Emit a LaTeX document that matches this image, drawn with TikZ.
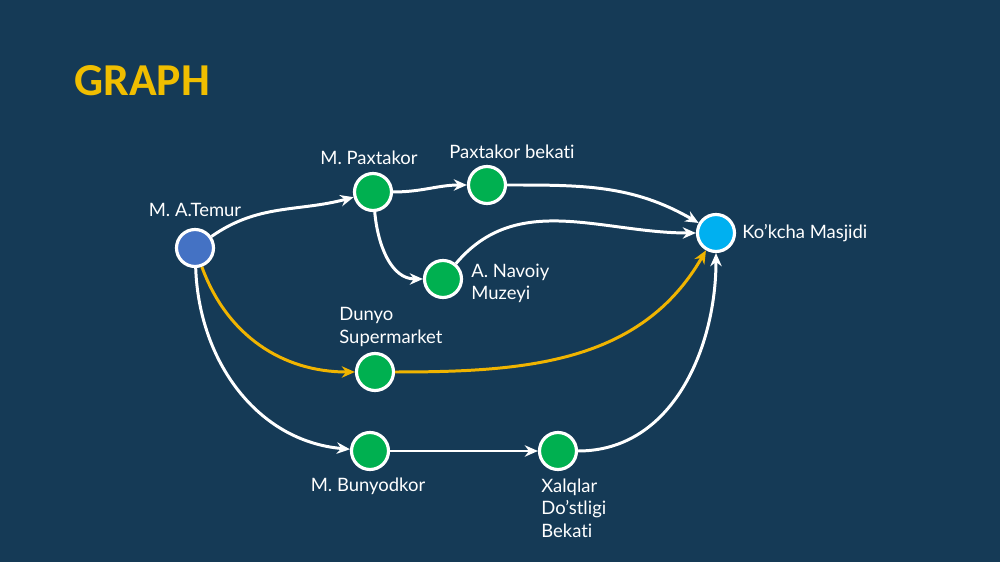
\documentclass[tikz,border=0pt]{standalone}
\usepackage{fontspec}
\setmainfont[Ligatures=CommonOff]{Lato}
\newfontfamily\titlefont{Carlito}
\usetikzlibrary{arrows.meta}
\definecolor{slidebg}{RGB}{21,58,86}
\definecolor{stopgreen}{RGB}{0,176,80}
\definecolor{startblue}{RGB}{68,114,196}
\definecolor{endblue}{RGB}{0,176,240}
\definecolor{routegold}{RGB}{240,180,0}

\begin{document}
\begin{tikzpicture}[
  stop/.style={circle, draw=white, line width=1.8pt, minimum size=0.74cm, inner sep=0pt, fill=stopgreen},
  place/.style={text=white, font=\fontsize{10.5}{12.8}\selectfont, inner sep=0pt, align=left},
  road/.style={draw=white, line width=1.7pt, -{Stealth[length=7.5pt,width=6.5pt]}},
  gold/.style={road, draw=routegold}]
  \fill[slidebg] (0,0) rectangle (20,-11.24);
  \useasboundingbox (0,0) rectangle (20,-11.24);
  \node[text={rgb,255:red,240;green,190;blue,0}, font=\titlefont\bfseries\fontsize{26}{30}\selectfont, anchor=west, inner sep=0pt] (title) at (1.48,-1.62) {GRAPH};
  \node[stop, fill=startblue] (temur) at (3.9,-4.96) {};
  \node[stop] (paxtakor) at (7.46,-3.84) {};
  \node[stop] (bekati) at (9.74,-3.7) {};
  \node[stop] (navoiy) at (8.86,-5.58) {};
  \node[stop, fill=endblue] (kokcha) at (14.32,-4.66) {};
  \node[stop] (dunyo) at (7.5,-7.44) {};
  \node[stop] (bunyodkor) at (7.4,-9.02) {};
  \node[stop] (xalqlar) at (11.16,-9.02) {};
  \node[place] (temurlbl) at (3.9,-4.2) {M. A.Temur};
  \node[place] (paxtakorlbl) at (7.38,-3.16) {M. Paxtakor};
  \node[place] (bekatilbl) at (10.24,-3.04) {Paxtakor bekati};
  \node[place, anchor=west] (navoiylbl) at (9.42,-5.67) {A. Navoiy\\Muzeyi};
  \node[place, anchor=west] (kokchalbl) at (14.84,-4.66) {Ko'kcha Masjidi};
  \node[place, anchor=west] (dunyolbl) at (6.78,-6.54) {Dunyo\\Supermarket};
  \node[place] (bunyodkorlbl) at (7.36,-9.72) {M. Bunyodkor};
  \node[place, anchor=west] (xalqlarlbl) at (10.82,-10.16) {Xalqlar\\Do'stligi\\Bekati};
  % Draw the routes
  \draw[road] (temur) to[out=35, in=195] (paxtakor);
  \draw[road] (paxtakor) to[out=0, in=180] (bekati);
  \draw[road] (bekati) to[out=0, in=150] (kokcha);
  \draw[road] (paxtakor) to[out=-85, in=180] (navoiy);
  \draw[road] (navoiy) to[out=50, in=180] (kokcha);
  \draw[gold] (temur) to[out=-70, in=180] (dunyo);
  \draw[gold] (dunyo) to[out=0, in=-120] (kokcha);
  \draw[road] (temur) to[out=-88, in=175] (bunyodkor);
  \draw[road] (bunyodkor) -- (xalqlar);
  \draw[road] (xalqlar) to[out=0, in=-90] (kokcha);
\end{tikzpicture}
\end{document}
